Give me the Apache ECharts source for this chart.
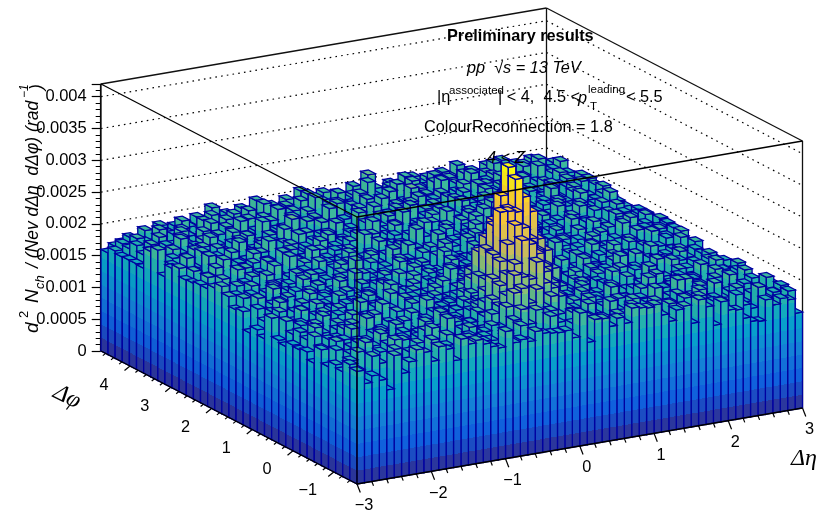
<!DOCTYPE html>
<html><head><meta charset="utf-8">
<style>html,body{margin:0;padding:0;background:#fff}#c{width:835px;height:515px}</style>
<script src="https://cdn.jsdelivr.net/npm/echarts@6/dist/echarts.min.js"></script>
</head><body><div id="c"></div>
<script>
// z values in units of 1e-5, rows run from the lowest delta-phi bin upward, columns over delta-eta
const row00=[177,156,166,157,140,192,162,178,195,189,173,194,188,168,200,190,194,186,180,176,200,180,183,178,192,187,185,184,185,172,209,161,195,194,180,191,181,203,201,199,202,184,172,188,192,163,198,185,154,189,174,172,157,150,148,180,170,178,174,151];
const row01=[182,171,158,189,176,163,194,168,155,181,172,199,164,186,177,158,192,171,183,169,160,188,175,197,165,181,170,204,176,162,187,174,193,166,181,159,190,172,200,178,165,185,157,192,173,181,168,196,160,184,176,151,188,170,163,194,175,182,166,180];
const row02=[165,180,192,170,158,186,175,201,163,178,190,167,184,172,195,161,179,188,170,183,174,162,175,200,215,190,210,195,205,185,178,196,163,187,172,181,204,169,158,190,176,166,193,180,171,160,189,177,198,168,182,174,155,191,167,179,186,164,175,183];
const row03=[170,159,183,176,197,165,172,188,154,191,168,181,175,202,160,186,171,177,193,164,182,190,185,215,235,240,215,235,205,220,190,173,185,162,198,176,167,189,181,159,194,171,184,205,163,178,190,169,174,186,158,197,172,180,165,188,176,161,192,179];
const row04=[161,185,174,168,190,156,182,199,171,164,187,176,159,192,181,170,205,166,184,175,162,178,200,210,225,255,250,245,270,235,225,210,190,188,165,200,172,183,157,191,178,167,186,173,195,160,181,204,170,176,189,163,184,171,198,158,175,187,180,170];
const row05=[182,167,191,160,178,186,172,157,195,180,169,188,163,176,198,174,183,160,190,171,185,166,190,215,235,250,265,300,292,275,245,225,205,168,192,177,161,187,175,203,164,182,170,193,158,179,188,173,166,196,175,184,162,190,171,181,155,194,177,173];
const row06=[155,176,188,169,184,199,163,177,186,172,158,194,180,167,175,189,162,201,173,185,170,178,192,205,240,265,290,318,312,285,270,245,220,195,181,164,196,169,184,178,192,159,175,187,168,200,177,163,182,190,170,186,173,157,195,166,180,188,172,168];
const row07=[167,189,172,158,181,193,176,165,204,170,183,161,178,190,173,166,187,175,195,160,182,171,188,195,215,270,335,334,331,300,285,265,240,210,165,187,172,198,160,183,175,191,169,180,157,186,174,196,163,178,188,167,181,199,172,160,185,176,191,165];
const row08=[164,178,195,171,160,186,175,192,166,181,200,169,184,158,177,193,172,163,188,179,170,185,167,191,195,225,260,290,330,375,345,320,275,255,225,195,184,163,196,178,168,187,174,159,192,180,171,202,165,183,176,190,161,175,186,169,194,178,173,173];
const row09=[166,184,170,193,177,161,189,174,198,163,179,186,172,156,191,168,182,175,201,170,187,164,178,190,200,225,265,300,345,388,335,300,265,235,205,188,166,181,193,171,160,185,177,196,168,183,174,162,189,178,170,199,165,182,175,157,190,172,184,169];
const row10=[158,175,187,169,182,196,164,178,171,190,160,185,176,199,167,181,173,192,163,177,188,170,183,162,195,215,255,275,300,315,290,265,245,215,192,168,183,174,160,198,181,170,189,164,177,193,172,185,158,180,196,167,176,188,163,182,174,191,169,172];
const row11=[162,190,176,183,168,157,194,172,186,179,165,200,174,188,161,183,170,195,177,164,182,191,169,178,186,200,220,240,265,270,255,235,215,195,190,177,163,196,173,185,167,179,192,160,187,174,203,170,182,165,178,189,172,158,194,176,166,185,180,171];
const row12=[191,168,180,174,195,162,183,176,169,189,178,158,192,171,184,166,198,175,160,187,173,181,195,164,177,190,195,210,230,240,225,210,195,197,163,180,175,186,192,168,178,160,201,174,183,169,190,177,163,195,172,184,168,179,160,191,175,186,170,165];
const row13=[153,179,191,165,172,188,160,194,177,183,170,186,162,176,193,181,168,204,173,159,189,175,182,167,196,178,163,195,205,210,200,200,169,184,175,193,161,178,188,170,197,165,182,173,186,159,176,192,181,168,187,171,195,162,178,184,174,167,190,167];
const row14=[161,172,185,198,166,179,191,170,157,184,176,193,168,181,163,187,175,199,171,160,183,192,174,165,188,178,205,169,182,173,157,190,176,186,167,196,172,180,163,189,175,184,158,194,178,170,187,164,199,176,181,168,190,173,185,160,177,193,172,167];
const row15=[150,186,169,177,192,174,163,181,196,168,187,172,159,190,178,165,183,175,194,162,180,171,197,168,185,176,160,193,174,188,179,166,182,201,170,187,173,161,195,177,184,168,175,190,163,180,198,171,186,159,176,192,169,183,174,166,188,178,195,170];
const row16=[178,164,195,172,181,167,189,176,160,193,174,183,169,200,162,178,190,171,185,158,175,196,167,182,173,189,163,177,192,170,184,161,198,175,186,168,179,193,164,172,188,176,203,166,181,170,157,192,178,185,163,174,189,180,167,195,172,184,161,178];
const row17=[175,191,163,184,170,198,177,165,188,173,156,192,180,168,186,175,201,164,179,171,190,160,183,176,194,169,187,174,162,196,178,185,170,190,165,181,173,199,176,160,184,192,168,177,188,163,182,171,195,174,166,186,178,159,193,170,181,189,175,186];
const row18=[190,174,166,187,179,160,194,172,183,168,197,176,185,163,172,189,178,158,191,182,170,186,174,199,164,180,192,168,176,203,161,184,171,188,175,195,167,180,159,187,173,196,164,183,177,190,169,186,175,162,192,180,171,200,165,178,187,173,184,188];
const row19=[200,168,182,175,193,164,178,189,171,186,160,176,195,167,183,172,190,177,205,163,181,174,188,159,196,170,184,178,165,191,173,187,162,180,197,169,176,192,183,166,179,171,201,175,188,160,185,172,194,177,168,182,190,163,176,199,170,186,178,190];
const row20=[192,177,160,189,172,185,166,198,175,181,169,193,164,179,187,171,158,195,176,184,167,190,178,173,205,162,186,175,192,168,182,200,170,177,164,189,174,194,180,159,187,172,183,197,165,178,191,169,176,186,161,195,174,181,170,188,163,179,192,184];
const row21=[185,162,196,178,170,184,192,167,175,203,173,181,161,188,176,198,166,183,172,190,177,159,194,180,168,187,175,200,164,182,191,171,178,186,163,195,173,168,189,176,204,165,181,172,192,160,184,177,170,197,175,188,166,183,174,193,179,162,187,186];
const row22=[185,195,170,176,163,199,180,172,188,165,184,177,206,168,192,175,160,187,181,170,196,164,178,190,172,183,168,194,176,186,162,179,201,174,188,167,182,193,171,177,160,198,185,169,176,190,164,187,179,172,195,168,183,176,160,191,174,186,170,186];
const row23=[182,170,188,200,175,167,185,192,162,179,196,172,168,183,190,176,202,165,186,173,181,194,169,177,161,198,184,174,189,166,207,178,170,193,182,163,176,187,199,172,181,168,191,175,186,160,178,195,170,184,177,163,200,172,189,181,167,193,176,170];
const row24=[181,193,167,176,186,203,171,179,160,190,174,187,165,199,178,170,184,163,193,176,188,172,180,167,205,175,190,161,183,178,170,196,186,164,175,192,181,169,188,204,173,160,185,177,194,168,182,190,172,165,198,179,170,187,176,162,192,184,175,180];
const row25=[194,176,183,168,205,172,190,164,186,178,197,170,182,175,160,193,184,172,179,199,166,187,175,191,170,181,196,163,178,188,174,185,167,200,179,171,190,162,194,177,183,206,170,186,164,178,192,173,188,167,180,195,175,163,189,178,184,171,198,182];
const row26=[188,170,200,178,163,192,184,174,197,166,181,176,189,205,171,167,194,180,186,173,160,199,177,185,168,192,175,208,170,183,196,178,165,187,172,191,180,204,168,176,195,184,163,178,190,172,198,166,185,175,188,170,192,180,164,197,176,183,190,184];
const row27=[169,185,178,191,175,198,166,187,180,172,203,168,184,193,176,164,190,178,200,170,186,175,194,165,181,188,172,179,197,183,168,190,207,174,186,162,195,179,171,188,176,192,166,183,199,174,181,169,191,177,163,187,204,172,180,193,168,184,175,194];
const row28=[205,176,188,170,183,195,174,162,192,186,178,199,167,181,190,172,185,204,176,168,193,179,186,173,200,165,188,177,192,170,183,197,174,163,208,180,187,169,194,178,172,201,184,166,189,176,195,170,182,191,175,167,186,199,178,171,193,181,164,190];
const row29=[197,181,172,194,186,165,179,190,203,176,170,188,182,196,164,178,191,173,186,210,168,184,176,197,171,189,180,165,202,187,175,192,169,183,178,205,172,190,186,167,181,199,175,188,163,194,179,171,206,184,176,190,168,182,197,173,187,177,192,194];
const row30=[165,190,179,184,172,201,168,186,193,175,182,163,197,178,189,170,206,183,174,191,180,167,195,186,176,209,172,188,181,194,170,200,178,185,192,168,183,204,175,189,177,195,171,186,180,164,198,190,176,183,202,172,188,179,194,169,185,192,178,194];
const row31=[166,178,192,175,187,170,196,183,164,199,176,190,181,172,205,168,186,193,177,182,170,198,188,175,191,164,184,207,179,172,194,186,180,203,169,190,177,211,183,174,188,196,167,182,191,178,200,172,186,193,176,184,199,170,188,181,175,196,183,180];
const row32=[166,187,175,182,194,172,178,197,188,170,185,202,176,192,180,168,199,184,175,190,206,172,186,179,195,183,170,201,188,176,192,181,198,168,187,204,178,185,194,172,190,180,208,175,186,196,170,183,191,177,199,187,172,193,181,205,176,189,184,186];
const row33=[165,176,190,184,178,198,171,186,193,180,175,200,188,169,196,182,177,204,174,190,186,199,178,192,183,172,207,185,179,194,188,176,201,190,174,183,197,206,170,187,193,178,199,184,176,191,186,203,173,188,195,180,190,176,200,184,192,178,188,198];
const row34=[169,178,186,181,193,176,189,184,174,198,187,180,192,199,178,186,195,175,190,183,203,187,177,194,180,198,206,184,191,176,200,188,193,182,209,186,178,196,190,184,199,188,178,202,186,194,180,197,187,176,192,205,184,190,178,196,186,200,182,190];
const row35=[160,168,172,175,170,182,178,189,176,184,189,180,192,186,203,182,190,178,194,186,202,184,191,180,196,188,205,190,183,197,186,192,181,199,187,213,190,184,194,188,200,198,186,193,180,197,189,204,185,192,183,196,188,200,186,191,180,194,185,176];
const rows=[row00,row01,row02,row03,row04,row05,row06,row07,row08,row09,row10,row11,row12,row13,row14,row15,row16,row17,row18,row19,row20,row21,row22,row23,row24,row25,row26,row27,row28,row29,row30,row31,row32,row33,row34,row35];

const etaTicks=[-3,-2,-1,0,1,2,3];
const phiTicks=[-1,0,1,2,3,4];
const zGridLines=[0.0005,0.001,0.0015,0.002,0.0025,0.003,0.0035,0.004];

const etaMin=-3, etaMax=3, phiMin=-Math.PI/2, phiMax=3*Math.PI/2, zMax=0.0042;
const etaW=(etaMax-etaMin)/60, phiW=(phiMax-phiMin)/36;
const PHI_DX=-256, PHI_DY=-133, ETA_DY=-76;

function proj(api,eta,phi,z){
  const p=api.coord([eta,z]);
  const u=(eta-etaMin)/(etaMax-etaMin), v=(phi-phiMin)/(phiMax-phiMin);
  return [p[0]+v*PHI_DX, p[1]+u*ETA_DY+v*PHI_DY];
}

// kBird palette
const bird=[[53,42,135],[15,92,221],[20,129,214],[6,164,202],[46,183,164],[135,191,119],[209,187,89],[254,200,50],[249,251,14]];
function birdAt(t,f){
  t=Math.min(1,Math.max(0,t))*(bird.length-1);
  const i=Math.min(bird.length-2,Math.floor(t)),r=t-i;
  const c=[0,1,2].map(k=>Math.min(255,Math.round((bird[i][k]*(1-r)+bird[i+1][k]*r)*f)));
  return 'rgb('+c.join(',')+')';
}
const LEVELS=20, COLOR_OFF=0.6, COLOR_SPAN=18.4;
function stopsFor(z,f){
  const s=[],dz=zMax/LEVELS;
  for(let k=0;k<LEVELS;k++){
    const a=k*dz,b=(k+1)*dz;
    if(a>=z)break;
    const col=birdAt((k+COLOR_OFF)/COLOR_SPAN,f);
    s.push({offset:a/z,color:col});
    s.push({offset:Math.min(1,b/z),color:col});
    if(b>=z)break;
  }
  return s;
}
function grad(p,q,H,stops){
  // bands stay parallel to the bottom edge p->q of the face
  let nx=-(q[1]-p[1]),ny=q[0]-p[0];
  const L=Math.hypot(nx,ny);nx/=L;ny/=L;
  if(ny>0){nx=-nx;ny=-ny;}
  const len=H*Math.abs(ny);
  return new echarts.graphic.LinearGradient(p[0],p[1],p[0]+nx*len,p[1]+ny*len,stops,true);
}

const barData=[];
for(let i=rows.length-1;i>=0;i--){
  for(let j=rows[i].length-1;j>=0;j--){
    barData.push([etaMin+j*etaW,phiMin+i*phiW,rows[i][j]*1e-5]);
  }
}
const LINE='#0000a0';
function renderBar(params,api){
  const e0=api.value(0),p0=api.value(1),z=api.value(2);
  const e1=e0+etaW,p1=p0+phiW;
  const a0=proj(api,e0,p0,0),b0=proj(api,e1,p0,0),c0=proj(api,e0,p1,0);
  const a1=proj(api,e0,p0,z),b1=proj(api,e1,p0,z),c1=proj(api,e0,p1,z),d1=proj(api,e1,p1,z);
  const H=a0[1]-a1[1];
  const sA=stopsFor(z,0.97),sB=stopsFor(z,1.0);
  const base={stroke:LINE,lineWidth:1.3};
  return {type:'group',silent:true,children:[
    {type:'polygon',silent:true,shape:{points:[a0,c0,c1,a1]},style:Object.assign({fill:grad(a0,c0,H,sA)},base)},
    {type:'polygon',silent:true,shape:{points:[a0,b0,b1,a1]},style:Object.assign({fill:grad(a0,b0,H,sB)},base)},
    {type:'polygon',silent:true,shape:{points:[a1,b1,d1,c1]},style:Object.assign({fill:birdAt((Math.floor(z/zMax*LEVELS)+COLOR_OFF)/COLOR_SPAN,1.0)},base)}
  ]};
}
function renderSeg(style){
  return function(params,api){
    const a=proj(api,api.value(0),api.value(1),api.value(2));
    const b=proj(api,api.value(3),api.value(4),api.value(5));
    return {type:'polyline',silent:true,shape:{points:[a,b]},style:Object.assign({fill:null},style)};
  };
}
const backGrid=[];
zGridLines.forEach(z=>{
  backGrid.push([etaMin,phiMax,z,etaMax,phiMax,z]);
  backGrid.push([etaMax,phiMax,z,etaMax,phiMin,z]);
});
const backFrame=[
  [etaMax,phiMax,0,etaMax,phiMax,zMax],
  [etaMin,phiMax,zMax,etaMax,phiMax,zMax],
  [etaMax,phiMax,zMax,etaMax,phiMin,zMax],
  [etaMin,phiMax,0,etaMin,phiMax,zMax],
  [etaMax,phiMin,0,etaMax,phiMin,zMax]
];
const frontFrame=[
  [etaMin,phiMax,0,etaMin,phiMin,0],
  [etaMin,phiMin,0,etaMax,phiMin,0],
  [etaMin,phiMin,0,etaMin,phiMin,zMax],
  [etaMin,phiMax,zMax,etaMin,phiMin,zMax],
  [etaMin,phiMin,zMax,etaMax,phiMin,zMax]
];
const etaTickData=[],phiTickData=[];
for(let k=0;k<=30;k++)etaTickData.push([etaMin+k*0.2,k%5===0?1:0]);
for(let k=-7;k<=23;k++){phiTickData.push([k*0.2,k%5===0?1:0]);}
function renderEtaTick(params,api){
  const a=proj(api,api.value(0),phiMin,0),m=api.value(1)?1:0.5;
  return {type:'polyline',silent:true,shape:{points:[a,[a[0]+3.3*m,a[1]+8.5*m]]},style:{stroke:'#000',lineWidth:1.2,fill:null}};
}
function renderPhiTick(params,api){
  const a=proj(api,etaMin,api.value(0),0),m=api.value(1)?1:0.5;
  return {type:'polyline',silent:true,shape:{points:[a,[a[0]-5.5*m,a[1]+4.5*m]]},style:{stroke:'#000',lineWidth:1.2,fill:null}};
}
const labelFont='16.3px "Liberation Sans"';
function fmt(v){return v<0?'\u2212'+(-v):String(v);}
function renderEtaLabel(params,api){
  const v=api.value(0),a=proj(api,v,phiMin,0);
  return {type:'text',silent:true,style:{text:fmt(v),x:a[0]+7,y:a[1]+22,font:labelFont,fill:'#000',align:'center',verticalAlign:'middle'}};
}
function renderPhiLabel(params,api){
  const v=api.value(0),a=proj(api,etaMin,v,0);
  return {type:'text',silent:true,style:{text:fmt(v),x:a[0]-26,y:a[1]+19,font:labelFont,fill:'#000',align:'center',verticalAlign:'middle'}};
}
function custom(name,render,data,z){
  return {type:'custom',name:name,xAxisIndex:0,yAxisIndex:0,renderItem:render,data:data,z:z,silent:true,animation:false,progressive:0,clip:false};
}
function txt(x,y,t,font,rot,align){
  return {type:'text',x:x,y:y,rotation:rot||0,z:100,silent:true,style:{text:t,font:font,fill:'#000',align:align||'left',verticalAlign:'middle'}};
}
const F='"Liberation Sans"';
const SZ='16.3px '+F, SM='11.5px '+F;
const graphics=[
  txt(447,37,'Preliminary results','bold '+SZ),
  txt(467,68,'pp  \u221As = 13 TeV','italic '+SZ),
  txt(437,98,'|\u03B7',SZ),
  txt(449,91,'associated',SM),
  txt(498,98,'| < 4,  4.5 <',SZ),
  txt(578,98,'p','italic '+SZ),
  txt(588,90,'leading',SM),
  txt(590,107,'T',SM),
  txt(626,98,'< 5.5',SZ),
  txt(424,128,'ColourReconnection = 1.8',SZ),
  txt(487,158,'4 < Z','italic '+SZ),
  txt(33,333,'d','italic 19px '+F,Math.PI/2),
  txt(24,318,'2','13px '+F,Math.PI/2),
  txt(33,303,'N','italic 19px '+F,Math.PI/2),
  txt(40,289,'ch','italic 13px '+F,Math.PI/2),
  txt(33,268,'/ (Nev d\u0394\u03B7  d\u0394\u03C6) (rad','italic 17.5px '+F,Math.PI/2),
  txt(25,98,'\u22121','italic 12px '+F,Math.PI/2),
  txt(37,90,')','italic 17.5px '+F,Math.PI/2),
  txt(804,459,'\u0394\u03B7','italic 24px "Liberation Serif"',0,'center'),
  txt(67,397,'\u0394\u03C6','italic 24px "Liberation Serif"',-0.47,'center')
];
const chart=echarts.init(document.getElementById('c'),null,{renderer:'canvas',width:835,height:515});
chart.setOption({
  animation:false,
  backgroundColor:'#fff',
  grid:[
    {left:357,top:217,width:445.5,height:267},
    {left:100.7,top:84,width:10,height:267}
  ],
  xAxis:[
    {type:'value',gridIndex:0,min:etaMin,max:etaMax,show:false},
    {type:'value',gridIndex:1,min:0,max:1,show:false}
  ],
  yAxis:[
    {type:'value',gridIndex:0,min:0,max:zMax,show:false},
    {type:'value',gridIndex:1,min:0,max:zMax,interval:0.0005,position:'left',
     axisLine:{show:true,lineStyle:{color:'#000',width:1.2}},
     axisTick:{show:true,length:9,lineStyle:{color:'#000',width:1.2}},
     minorTick:{show:true,splitNumber:5,length:5,lineStyle:{color:'#000',width:1}},
     splitLine:{show:false},minorSplitLine:{show:false},
     axisLabel:{show:true,color:'#000',fontFamily:'Liberation Sans',fontSize:16.5,margin:14,showMaxLabel:false,padding:[3,0,0,0],
       formatter:function(v){return v>0.00415?'':String(+v.toFixed(4));}}}
  ],
  graphic:{elements:graphics},
  series:[
    custom('wall-grid',renderSeg({stroke:'#000',lineWidth:1.2,lineDash:[1.6,4.2]}),backGrid,1),
    custom('back-frame',renderSeg({stroke:'#111',lineWidth:1.3}),backFrame,2),
    custom('lego',renderBar,barData,3),
    custom('front-frame',renderSeg({stroke:'#000',lineWidth:1.3}),frontFrame,4),
    custom('eta-ticks',renderEtaTick,etaTickData,4),
    custom('phi-ticks',renderPhiTick,phiTickData,4),
    custom('eta-labels',renderEtaLabel,etaTicks.map(v=>[v,0]),5),
    custom('phi-labels',renderPhiLabel,phiTicks.map(v=>[v,0]),5)
  ]
});
</script></body></html>
